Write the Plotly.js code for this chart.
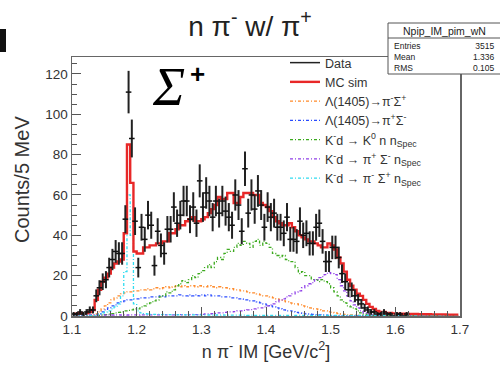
<!DOCTYPE html>
<html><head><meta charset="utf-8">
<script src="https://cdn.plot.ly/plotly-3.0.1.min.js"></script>
<style>html,body{margin:0;padding:0;background:#fff}#plot{width:500px;height:368px}</style>
</head><body><div id="plot"></div>
<script>
// 5 MeV bins from 1.100 to 1.700 GeV/c^2 (120 bins); first bin centre and width
const binFirstCenter = 1.1025;
const binWidth = 0.005;

const dataCounts = [
 1,1,2,1,2,3,3,10,14,17, 18,24,28,32,31,31,48,111,88,47,
 24,44,38,50,45,25,42,35,31,43, 43,54,46,50,57,57,48,54,46,67,
 54,61,57,49,57,51,57,52,49,45, 60,55,42,73,51,60,53,62,55,44,
 54,49,51,44,44,41,49,38,38,37, 47,40,41,36,36,44,46,37,27,27,
 34,34,29,21,17,13,13,10,8,6, 4,3,2,2,1,1,2,1,1,0,
 1,1,0,1,null,null,null,null,null,null, null,null,null,null,null,null,null,null,null,null
];

const mcSim = [
 1.0,1.2,1.5,1.3,1.5,2.0,3.0,8,13,17, 19,21,24,26,27,28,41,85,66,32,
 31,31,34,34,35,35,36,36,37,37, 41,41,43,45,45,47,48,49,47,47,
 48,49,51,53,55,59,58,58,61,61, 56,56,59,61,61,61,60,60,56,55,
 54,52,49,47,46,45,45,46,44,42, 40,39,38,37,37,36,35,34,34,36,
 35,33,29,26,22,18,15,13,11,10, 8,6,4.5,3.5,2.5,2,2,1.5,1.5,1.3,
 1.2,1.2,1.1,1.1,1.0,1.0,1.0,0.9,0.9,0.9, 0.9,0.8,0.8,0.8,0.8,0.8,0.7,0.7,0.7,0.7
];

const lambdaPimSigp = [
 0,0,0,0,0,0.2,0.5,1,2,3.5, 5,6.5,8,9,10,11,11.5,12,12,12.5,
 12.5,13,13,13.5,13,13.5,14,13.5,14,14.5, 14,14.5,15,14.5,15,14.5,15,15,14.5,15,
 14.5,14.5,15,14.5,14,14.5,14,14,13.5,13.5, 13,13,12.5,12.5,12,11.5,11.5,11,10.5,10,
 10,9.5,9,8.5,8,7.5,7,6.5,6,6, 5.5,5,4.5,4,3.5,3.5,3,2.5,2.5,2,
 1.8,1.5,1.2,1,0.8,0.6,0.5,0.4,0.3,0.2, 0.2,0.1,0,0,0,0,0,0,0,0,
 0,0,0,0,0,0,0,0,0,0, 0,0,0,0,0,0,0,0,0,0
];

const lambdaPipSigm = [
 0,0,0,0,0,0.1,0.3,0.6,1.2,2, 3,4,5,5.5,6.5,7,7.5,8,8,8.5,
 8.5,9,9,9,9.5,9.5,9.5,10,9.5,10, 10,10,10,10.5,10,10,10.5,10,10.5,10,
 10.5,10,10.5,10,10,10,9.5,9.5,9.5,9, 9,8.5,8.5,8,8,7.5,7.5,7,6.5,6,
 5.5,5,4.5,4,3.5,3,2.5,2.5,2,1.8, 1.5,1.3,1.1,1,0.8,0.7,0.6,0.5,0.4,0.3,
 0.2,0.2,0.1,0.1,0,0,0,0,0,0, 0,0,0,0,0,0,0,0,0,0,
 0,0,0,0,0,0,0,0,0,0, 0,0,0,0,0,0,0,0,0,0
];

const kdK0nn = [
 0,0,0,0,0,0,0,0.2,0.3,0.5, 0.7,0.9,1.2,1.5,1.8,2,2.5,2.8,3,3.5,
 3.5,4.5,5,6,6.5,7.5,8,9.5,10,12, 11.5,13,15,16,17.5,16.5,18,20,19,21,
 22.5,24,25.5,24,27,29,28,31,33,32, 34,36,35,37,36,34,37,38,35,37,
 36,34,31,30,29,30,28,27,27,24, 21,22,20,20,18,18,17,18,17,16,
 14,12,10,8,6.5,5,4.5,3.5,2.5,1.5, 1,0.5,0.3,0.2,0.1,0,0,0,0,0,
 0,0,0,0,0,0,0,0,0,0, 0,0,0,0,0,0,0,0,0,0
];

const kdPipSigmN = [
 0.3,0.4,0.5,0.4,0.5,0.6,0.5,0.6,0.5,0.6, 0.5,0.6,0.5,0.6,0.6,0.5,0.6,0.5,0.6,0.6,
 0.5,0.6,0.6,0.5,0.6,0.7,0.6,0.6,0.7,0.6, 0.7,0.6,0.7,0.7,0.6,0.7,0.7,0.8,0.7,0.8,
 0.8,1,1,1.2,1.3,1.5,1.5,1.8,2,2, 2.2,2.5,2.5,2.8,3,3.2,3.5,4,4,4.5,
 5,5.5,6,7,8,8.5,9.5,10,11,12, 12.5,14,15,16,16.5,18,19,19.5,20.5,21.5,
 21,20.5,18,15,12.5,10,7.5,5.5,4,2.5, 1.5,1,0.5,0.3,0.2,0.2,0.1,0.1,0.1,0.1,
 0.1,0,0,0,0,0,0,0,0,0, 0,0,0,0,0,0,0,0,0,0
];

const kdPimSigpN = [
 0,0,0,0,0,0.2,0.3,0.5,1,1.5, 2,2.5,3.5,4.5,6,10,22,60,40,6,
 2.5,1.5,1.2,1,0.8,0.8,0.8,0.7,0.8,0.7, 0.7,0.7,0.6,0.7,0.6,0.6,0.6,0.6,0.5,0.6,
 0.5,0.5,0.5,0.5,0.5,0.4,0.5,0.4,0.4,0.4, 0.4,0.4,0.4,0.4,0.3,0.4,0.3,0.3,0.3,0.3,
 0.3,0.3,0.3,0.3,0.3,0.3,0.3,0.3,0.3,0.3, 0.3,0.3,0.3,0.3,0.3,0.3,0.3,0.3,0.3,0.3,
 0.3,0.3,0.3,0.3,0.3,0.3,0.3,0.3,0.3,0.3, 0.3,0.3,0.3,0.3,0.3,0.3,0.3,0.3,0.3,0.3,
 0.3,0.3,0.3,0.3,0.3,0.3,0.3,0.3,0.3,0.3, 0.3,0.3,0.3,0.3,0.3,0.3,0.3,0.3,0.3,0.3
];

const seriesNames = [
 'Data', 'MC sim',
 '\u039b(1405)\u2192\u03c0<sup>-</sup>\u03a3<sup>+</sup>',
 '\u039b(1405)\u2192\u03c0<sup>+</sup>\u03a3<sup>-</sup>',
 'K<sup>-</sup>d \u2192 K<sup>0</sup> n n<sub>Spec</sub>',
 'K<sup>-</sup>d \u2192 \u03c0<sup>+</sup> \u03a3<sup>-</sup> n<sub>Spec</sub>',
 'K<sup>-</sup>d \u2192 \u03c0<sup>-</sup> \u03a3<sup>+</sup> n<sub>Spec</sub>'
];
const statsLabels = ['Entries', 'Mean', 'RMS'];
const statsValues = ['3515', '1.336', '0.105'];

const FONT = 'Liberation Sans, Arial, Helvetica, sans-serif';
const compDash = '3px,2px,1px,2px';

function hist(y, name, color, width, dash, rank) {
  return {type:'scatter', mode:'lines', x0:binFirstCenter, dx:binWidth, y:y, name:name,
    line:{shape:'hvh', color:color, width:width, dash:dash}, legendrank:rank, hoverinfo:'skip'};
}

const traces = [
  hist(lambdaPimSigp, seriesNames[2], '#ff8a2a', 1.3, compDash, 3),
  hist(lambdaPipSigm, seriesNames[3], '#2a4cff', 1.3, compDash, 4),
  hist(kdK0nn,       seriesNames[4], '#3caa1e', 1.3, compDash, 5),
  hist(kdPipSigmN,   seriesNames[5], '#9040e8', 1.3, compDash, 6),
  hist(kdPimSigpN,   seriesNames[6], '#30dcf0', 1.3, compDash, 7),
  hist(mcSim,        seriesNames[1], '#e82828', 2.4, 'solid', 2),
  {type:'scatter', mode:'markers', x0:binFirstCenter, dx:binWidth, y:dataCounts, showlegend:false,
   marker:{symbol:'line-ew', size:4, line:{color:'#111', width:1.5}},
   error_y:{type:'sqrt', visible:true, color:'#222', thickness:2, width:0}, hoverinfo:'skip'},
  {type:'scatter', mode:'lines', x:[null], y:[null], name:seriesNames[0],
   line:{color:'#222', width:1.5}, legendrank:1}
];

const L=72, R=460, T=57, B=316;
const px = v => (v-L)/(R-L);
const py = v => (B-v)/(B-T);

const shapes = [
  {type:'rect', xref:'paper', yref:'paper', x0:px(388), x1:px(502), y0:py(74), y1:py(23),
   line:{color:'#555', width:1}, fillcolor:'#fff', layer:'above'},
  {type:'line', xref:'paper', yref:'paper', x0:px(388), x1:px(502), y0:py(38), y1:py(38),
   line:{color:'#555', width:1}, layer:'above'},
  {type:'rect', xref:'paper', yref:'paper', x0:px(0), x1:px(6), y0:py(52), y1:py(29),
   line:{width:0}, fillcolor:'#111', layer:'above'}
];

const annotations = [
  {xref:'paper', yref:'paper', x:px(168), y:py(87), xanchor:'center', yanchor:'middle', text:'\u03a3', showarrow:false,
   font:{family:'Liberation Serif, Times New Roman, serif', size:54, color:'#000', style:'italic'}},
  {xref:'paper', yref:'paper', x:px(197), y:py(74), xanchor:'center', yanchor:'middle', text:'<b>+</b>', showarrow:false,
   font:{family:FONT, size:26, color:'#000'}},
  {xref:'paper', yref:'paper', x:(px(388)+px(500))/2, y:py(31), xanchor:'center', yanchor:'middle',
   text:'Npip_IM_pim_wN', showarrow:false, font:{family:FONT, size:10.5, color:'#222'}},
  {xref:'paper', yref:'paper', x:px(392), y:py(57), xanchor:'left', yanchor:'middle', align:'left',
   text:statsLabels.join('<br>'), showarrow:false, font:{family:FONT, size:8.5, color:'#222'}},
  {xref:'paper', yref:'paper', x:px(497), y:py(57), xanchor:'right', yanchor:'middle', align:'right',
   text:statsValues.join('<br>'), showarrow:false, font:{family:FONT, size:8.5, color:'#222'}},
  {xref:'paper', yref:'paper', x:px(22), y:py(180), xanchor:'center', yanchor:'middle', textangle:-90,
   text:'Counts/5 MeV', showarrow:false, font:{family:FONT, size:20, color:'#333'}}
];

const layout = {
  width:500, height:368,
  margin:{l:L, r:500-R, t:T, b:368-B, pad:0},
  paper_bgcolor:'#fff', plot_bgcolor:'#fff',
  font:{family:FONT, color:'#333'},
  title:{text:'n \u03c0<sup>-</sup> w/ \u03c0<sup>+</sup>', x:0.5, xanchor:'center', y:1-26/368, yanchor:'middle',
         font:{family:FONT, size:28, color:'#222'}},
  showlegend:true,
  legend:{x:px(285), y:py(48), xanchor:'left', yanchor:'top', bgcolor:'rgba(0,0,0,0)',
          font:{family:FONT, size:12.5, color:'#333'}, traceorder:'normal', itemwidth:30},
  xaxis:{range:[1.1,1.7], dtick:0.1, tick0:1.1, ticks:'inside', ticklen:9, tickcolor:'#555', tickwidth:1,
         minor:{dtick:0.02, ticks:'inside', ticklen:5, tickcolor:'#555'},
         showline:true, linecolor:'#666', linewidth:1.5, mirror:true, zeroline:false, showgrid:false,
         tickfont:{size:13.5, color:'#333'}, tickformat:'.1f',
         title:{text:'n \u03c0<sup>-</sup> IM [GeV/c<sup>2</sup>]', font:{size:18, color:'#333'}, standoff:9}},
  yaxis:{range:[0,128.4], dtick:20, ticks:'inside', ticklen:9, tickcolor:'#555', tickwidth:1,
         minor:{dtick:5, ticks:'inside', ticklen:5, tickcolor:'#555'},
         showline:true, linecolor:'#666', linewidth:1.5, mirror:true, zeroline:false, showgrid:false,
         tickfont:{size:13.5, color:'#333'}},
  shapes:shapes, annotations:annotations
};

Plotly.newPlot('plot', traces, layout, {staticPlot:true, displayModeBar:false});
</script>
</body></html>
